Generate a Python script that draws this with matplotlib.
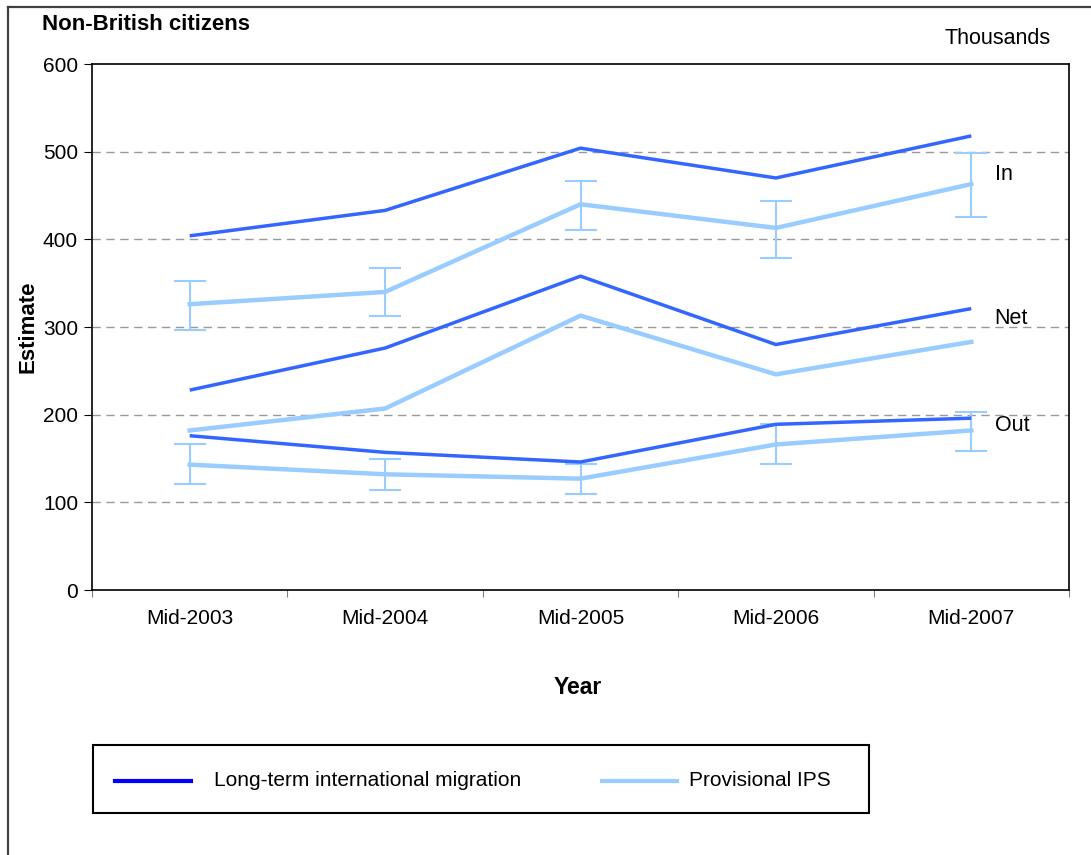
import matplotlib
matplotlib.use("Agg")
import matplotlib.pyplot as plt
from matplotlib.patches import Rectangle
from matplotlib.lines import Line2D
import numpy as np

plt.rcParams['font.family'] = ['Liberation Sans', 'DejaVu Sans']

years = ["Mid-2003", "Mid-2004", "Mid-2005", "Mid-2006", "Mid-2007"]

ltim_in = [404, 433, 504, 470, 518]
ltim_net = [228, 276, 358, 280, 321]
ltim_out = [176, 157, 146, 189, 196]

ips_in = [326, 340, 440, 413, 463]
ips_in_low = [297, 312, 411, 379, 426]
ips_in_high = [353, 367, 467, 444, 499]

ips_net = [182, 207, 313, 246, 283]

ips_out = [143, 132, 127, 166, 182]
ips_out_low = [121, 114, 110, 144, 159]
ips_out_high = [166, 150, 144, 189, 203]

series_labels = ["Long-term international migration", "Provisional IPS"]
flow_labels = ["In", "Net", "Out"]
flow_label_y = [474, 310, 188]

W, H = 1091, 855
fig = plt.figure(figsize=(W / 100, H / 100), dpi=100)

def fx(px):
    return px / W

def fy(py):
    return 1 - py / H

# outer frame (left and top edges visible)
fig.lines.append(Line2D([fx(8), fx(8)], [fy(7), fy(900)], transform=fig.transFigure,
                        color='#404040', lw=1.6))
fig.lines.append(Line2D([fx(8), fx(1100)], [fy(7), fy(7)], transform=fig.transFigure,
                        color='#404040', lw=1.6))

ax = fig.add_axes([fx(92), fy(590), fx(1069) - fx(92), fy(64) - fy(590)])

x = np.arange(len(years))
dark = '#3366FF'
light = '#99CCFF'

def err(vals, lo, hi):
    v = np.array(vals)
    return [v - np.array(lo), np.array(hi) - v]

ax.errorbar(x, ips_in, yerr=err(ips_in, ips_in_low, ips_in_high), color=light,
            lw=3.2, elinewidth=1.5, capsize=11.5, capthick=1.5, zorder=3)
ax.plot(x, ips_net, color=light, lw=3.2, zorder=3)
ax.errorbar(x, ips_out, yerr=err(ips_out, ips_out_low, ips_out_high), color=light,
            lw=3.2, elinewidth=1.5, capsize=11.5, capthick=1.5, zorder=3)

for s in (ltim_in, ltim_net, ltim_out):
    ax.plot(x, s, color=dark, lw=2.5, zorder=4, solid_capstyle='butt')

ax.set_xlim(-0.5, len(years) - 0.5)
ax.set_ylim(0, 600)
ax.set_yticks(np.arange(0, 601, 100))
ax.set_xticks(x)
ax.set_xticklabels(years)
ax.set_xticks(np.arange(-0.5, len(years), 1), minor=True)
ax.tick_params(axis='x', which='major', length=0, pad=14, labelsize=15)
ax.tick_params(axis='x', which='minor', length=5, width=0.8, color='#808080')
ax.tick_params(axis='y', length=6, width=0.8, labelsize=15, pad=4)
for yv in range(100, 600, 100):
    ax.axhline(yv, color='#999999', lw=1.0, ls=(0, (6, 4)), zorder=1)
for sp in ax.spines.values():
    sp.set_linewidth(1.2)
    sp.set_color('black')

for lab, yv in zip(flow_labels, flow_label_y):
    ax.text(4.12, yv, lab, fontsize=15.5, va='center', ha='left')

ax.set_xlabel("Year", fontsize=16.5, fontweight='bold')
ax.set_ylabel("Estimate", fontsize=16, fontweight='bold')
ax.xaxis.set_label_coords((578 - 92) / 977, -(687 - 590) / 526)
ax.yaxis.set_label_coords(-(92 - 28) / 977, (590 - 327) / 526)
ax.xaxis.label.set_va('center')
ax.yaxis.label.set_va('center')

fig.text(fx(42), fy(24), "Non-British citizens", fontsize=16, fontweight='bold',
         ha='left', va='center')
fig.text(fx(1051), fy(38), "Thousands", fontsize=15.5, ha='right', va='center')

# legend box
fig.patches.append(Rectangle((fx(93), fy(813)), fx(869) - fx(93), fy(745) - fy(813),
                             transform=fig.transFigure, fill=False,
                             edgecolor='black', linewidth=1.5))
fig.lines.append(Line2D([fx(115), fx(191)], [fy(781), fy(781)], transform=fig.transFigure,
                        color='#0000FF', lw=3))
fig.text(fx(214), fy(780), series_labels[0], fontsize=15, ha='left', va='center')
fig.lines.append(Line2D([fx(602), fx(677)], [fy(781), fy(781)], transform=fig.transFigure,
                        color=light, lw=3))
fig.text(fx(689), fy(780), series_labels[1], fontsize=15, ha='left', va='center')

fig.savefig("out.png", dpi=100)
